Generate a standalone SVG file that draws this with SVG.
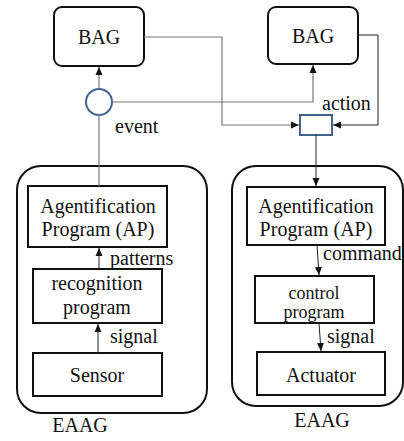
<svg xmlns="http://www.w3.org/2000/svg" width="404" height="441" viewBox="0 0 404 441" font-family="'Liberation Serif', 'Times New Roman', Times, 'Noto Serif', 'DejaVu Serif', serif">
  <style>
    text { font-size: 20px; fill: #111; }
    .mid { text-anchor: middle; }
    .small { font-size: 18px; }
    .bag { fill: #fff; stroke: #111; stroke-width: 2; }
    .eaag { fill: none; stroke: #111; stroke-width: 2; }
    .box { fill: #fff; stroke: #111; stroke-width: 2; }
    .port { fill: #fff; stroke: #41648f; stroke-width: 2; }
    .wire { fill: none; stroke: #777; stroke-width: 1.2; }
    .wire-dark { fill: none; stroke: #222; stroke-width: 1; }
  </style>
  <defs>
    <marker id="arr" viewBox="0 0 8 8" refX="8" refY="4" markerWidth="8" markerHeight="8" markerUnits="userSpaceOnUse" orient="auto">
      <path d="M0,0.5 L8,4 L0,7.5 Z" fill="#111"/>
    </marker>
  </defs>

  <!-- agent containers -->
  <g id="eaag-left">
    <rect class="eaag" x="17" y="166" width="190" height="247" rx="24"/>
    <text class="mid" x="80" y="432">EAAG</text>
  </g>
  <g id="eaag-right">
    <rect class="eaag" x="232" y="166" width="171" height="240" rx="24"/>
    <text class="mid" x="322" y="427">EAAG</text>
  </g>

  <!-- top level BAG nodes -->
  <g id="bag-left">
    <rect class="bag" x="54" y="7" width="90" height="59" rx="8"/>
    <text class="mid" x="99" y="44">BAG</text>
  </g>
  <g id="bag-right">
    <rect class="bag" x="268" y="7" width="90" height="57" rx="8"/>
    <text class="mid" x="313" y="43">BAG</text>
  </g>

  <!-- event port and action port -->
  <g id="event">
    <circle class="port" cx="99" cy="102" r="13"/>
    <text x="115" y="133">event</text>
  </g>
  <g id="action">
    <rect class="port" x="300" y="115" width="32" height="20"/>
    <text x="322" y="110">action</text>
  </g>

  <!-- left agent internals -->
  <g id="ap-left">
    <rect class="box" x="28" y="186" width="139" height="61"/>
    <text class="mid" x="98" y="213">Agentification</text>
    <text class="mid" x="98" y="236">Program (AP)</text>
  </g>
  <g id="recognition">
    <rect class="box" x="33" y="269" width="129" height="54"/>
    <text class="mid" x="97" y="290">recognition</text>
    <text class="mid" x="97" y="314">program</text>
  </g>
  <g id="sensor">
    <rect class="box" x="33" y="353" width="129" height="43"/>
    <text class="mid" x="97" y="382">Sensor</text>
  </g>

  <!-- right agent internals -->
  <g id="ap-right">
    <rect class="box" x="247" y="187" width="138" height="58"/>
    <text class="mid" x="316" y="213">Agentification</text>
    <text class="mid" x="316" y="236">Program (AP)</text>
  </g>
  <g id="control">
    <rect class="box" x="255" y="276" width="119" height="47"/>
    <text class="mid small" x="314" y="299">control</text>
    <text class="mid small" x="314" y="318">program</text>
  </g>
  <g id="actuator">
    <rect class="box" x="257" y="352" width="128" height="43"/>
    <text class="mid" x="321" y="382">Actuator</text>
  </g>

  <!-- connectors -->
  <g id="connectors">
    <path class="wire" d="M99,89 L99,67" marker-end="url(#arr)"/>
    <path class="wire" d="M112,102 L313,102 L313,65" marker-end="url(#arr)"/>
    <path class="wire" d="M144,37 L222,37 L222,125 L299,125" marker-end="url(#arr)"/>
    <path class="wire-dark" d="M358,35 L378,35 L378,125 L333,125" marker-end="url(#arr)"/>
    <path class="wire" d="M99,115 L99,186"/>
    <path class="wire-dark" d="M316,135 L316,186" marker-end="url(#arr)"/>
    <path class="wire-dark" d="M99,269 L99,248" marker-end="url(#arr)"/>
    <path class="wire-dark" d="M98,353 L98,324" marker-end="url(#arr)"/>
    <path class="wire-dark" d="M317,245 L319,275" marker-end="url(#arr)"/>
    <path class="wire-dark" d="M319,323 L321,351" marker-end="url(#arr)"/>
    <text x="110" y="265">patterns</text>
    <text x="110" y="343">signal</text>
    <text x="323" y="260">command</text>
    <text x="327" y="343">signal</text>
  </g>
</svg>
